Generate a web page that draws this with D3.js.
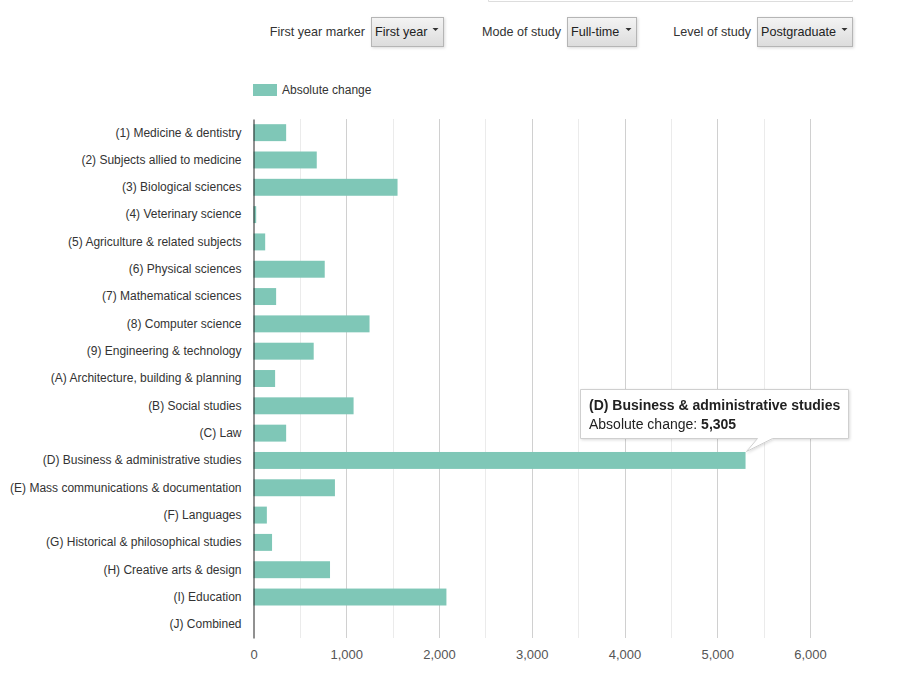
<!DOCTYPE html>
<html>
<head>
<meta charset="utf-8">
<script src="https://cdn.jsdelivr.net/npm/d3@7"></script>
<style>
  body { margin: 0; background: #fff; font-family: "Liberation Sans", Arial, sans-serif; }
  svg text { fill: #333; }
</style>
</head>
<body>
<div id="chart"></div>
<script>
// categories (subject areas)
const categories = [
  '(1) Medicine & dentistry',
  '(2) Subjects allied to medicine',
  '(3) Biological sciences',
  '(4) Veterinary science',
  '(5) Agriculture & related subjects',
  '(6) Physical sciences',
  '(7) Mathematical sciences',
  '(8) Computer science',
  '(9) Engineering & technology',
  '(A) Architecture, building & planning',
  '(B) Social studies',
  '(C) Law',
  '(D) Business & administrative studies',
  '(E) Mass communications & documentation',
  '(F) Languages',
  '(G) Historical & philosophical studies',
  '(H) Creative arts & design',
  '(I) Education',
  '(J) Combined'
]
// absolute change values
const changes = [352, 682, 1553, 29, 126, 768, 244, 1251, 649, 233, 1079, 352, 5305, 878, 144, 200, 825, 2080, 0]
const xTicks = [0, 1000, 2000, 3000, 4000, 5000, 6000]
const gridTicks = [500, 1000, 1500, 2000, 2500, 3000, 3500, 4000, 4500, 5000, 5500, 6000]
const seriesName = 'Absolute change'
const highlighted = '(D) Business & administrative studies'

// the dropdown controls above the chart
const controls = [
  {label: 'First year marker', value: 'First year', lx: 365, bx: 371, bw: 72},
  {label: 'Mode of study', value: 'Full-time', lx: 561, bx: 567, bw: 69},
  {label: 'Level of study', value: 'Postgraduate', lx: 751, bx: 757, bw: 95}
]

const width = 921,
  height = 688,
  plotLeft = 253.5,
  plotRight = 810,
  plotTop = 119,
  plotBottom = 638,
  barColor = '#7fc7b7'

let svg = d3.select('#chart')
  .append('svg')
  .attr('width', width)
  .attr('height', height)

let defs = svg.append('defs')
let grad = defs.append('linearGradient').attr('id', 'btn').attr('x1', 0).attr('x2', 0).attr('y1', 0).attr('y2', 1)
grad.append('stop').attr('offset', '0%').attr('stop-color', '#f4f4f4')
grad.append('stop').attr('offset', '100%').attr('stop-color', '#dcdcdc')
let shadow = defs.append('filter').attr('id', 'shadow').attr('x', '-10%').attr('y', '-20%').attr('width', '130%').attr('height', '160%')
shadow.append('feDropShadow').attr('dx', 1).attr('dy', 1).attr('stdDeviation', 1.5).attr('flood-color', '#000').attr('flood-opacity', 0.15)

// box edge at the very top
svg.append('path')
  .attr('d', 'M488.5,-5 V1.5 H852.5 V-5')
  .attr('fill', 'none')
  .attr('stroke', '#ddd')

// dropdowns
let ctl = svg.selectAll('g.ctl')
  .data(controls)
  .enter()
  .append('g')
  .attr('class', 'ctl')

ctl.append('text')
  .attr('x', d => d.lx)
  .attr('y', 36)
  .attr('text-anchor', 'end')
  .style('font-size', '12.6px')
  .text(d => d.label)

ctl.append('rect')
  .attr('x', d => d.bx + 0.5)
  .attr('y', 17.5)
  .attr('width', d => d.bw)
  .attr('height', 29)
  .attr('fill', 'url(#btn)')
  .attr('stroke', '#b5b5b5')
  .attr('filter', 'url(#shadow)')

ctl.append('text')
  .attr('x', d => d.bx + 4)
  .attr('y', 36)
  .style('font-size', '12.6px')
  .style('fill', '#222')
  .text(d => d.value)

ctl.append('path')
  .attr('d', d => {
    let cx = d.bx + d.bw - 7.5
    return `M${cx - 3},28 L${cx + 3},28 L${cx},31 Z`
  })
  .attr('fill', '#333')

// legend
svg.append('rect')
  .attr('x', 253)
  .attr('y', 84)
  .attr('width', 24)
  .attr('height', 12)
  .attr('fill', barColor)
svg.append('text')
  .attr('x', 282)
  .attr('y', 94)
  .style('font-size', '12px')
  .text(seriesName)

// scales
const xScale = d3.scaleLinear()
  .domain([0, 6000])
  .range([plotLeft, plotRight])

const yScale = d3.scaleBand()
  .domain(categories)
  .range([plotTop, plotBottom])
  .paddingInner(0.38)
  .paddingOuter(0.19)

// grid lines
svg.append('g')
  .selectAll('line')
  .data(gridTicks)
  .enter()
  .append('line')
  .attr('x1', d => Math.round(xScale(d)) + 0.5)
  .attr('x2', d => Math.round(xScale(d)) + 0.5)
  .attr('y1', plotTop)
  .attr('y2', plotBottom)
  .attr('stroke', d => d % 1000 === 0 ? '#d0d0d0' : '#ebebeb')

// bars
svg.append('g')
  .selectAll('rect')
  .data(categories)
  .enter()
  .append('rect')
  .attr('x', xScale(0))
  .attr('y', d => yScale(d))
  .attr('width', (d, i) => xScale(changes[i]) - xScale(0))
  .attr('height', yScale.bandwidth())
  .attr('fill', barColor)

// y axis
let axisY = d3.axisLeft(yScale).tickSize(0).tickPadding(12)
let gy = svg.append('g')
  .attr('transform', `translate(${plotLeft}, 0)`)
  .call(axisY)
gy.select('.domain').attr('stroke', '#222')
gy.selectAll('text').style('font-size', '12px').style('fill', '#333').style('font-family', '"Liberation Sans", Arial, sans-serif')

// x axis
let axisX = d3.axisBottom(xScale).tickValues(xTicks).tickSize(0).tickPadding(12).tickFormat(d3.format(','))
let gx = svg.append('g')
  .attr('transform', `translate(0, ${plotBottom})`)
  .call(axisX)
gx.select('.domain').remove()
gx.selectAll('text').style('font-size', '13px').style('fill', '#555').style('font-family', '"Liberation Sans", Arial, sans-serif')

// tooltip for the highlighted bar
const hi = categories.indexOf(highlighted)
const tipX = xScale(changes[hi]),
  tipY = yScale(highlighted)
const boxL = 580.5, boxR = 848.5, boxT = 389.5, boxB = 438.5
let tip = svg.append('g').attr('filter', 'url(#shadow)')
tip.append('path')
  .attr('d', `M${boxL},${boxT} H${boxR} V${boxB} H${tipX + 27} L${tipX + 1},${tipY - 0.5} L${tipX + 12},${boxB} H${boxL} Z`)
  .attr('fill', '#fff')
  .attr('stroke', '#cfcfcf')
tip.append('text')
  .attr('x', 589)
  .attr('y', 410)
  .style('font-size', '14px')
  .style('font-weight', 'bold')
  .style('fill', '#222')
  .text(highlighted)
let line2 = tip.append('text')
  .attr('x', 589)
  .attr('y', 429)
  .style('font-size', '14px')
  .style('fill', '#222')
line2.append('tspan').text(seriesName + ': ')
line2.append('tspan').style('font-weight', 'bold').text(d3.format(',')(changes[hi]))
</script>
</body>
</html>
